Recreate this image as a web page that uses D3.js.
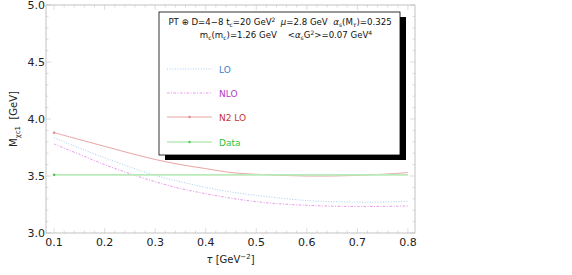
<!DOCTYPE html>
<html>
<head>
<meta charset="utf-8">
<script src="https://cdn.jsdelivr.net/npm/d3@7"></script>
<style>
  body { margin: 0; background: #fff; }
  text { font-family: "DejaVu Sans", sans-serif; white-space: pre; }
</style>
</head>
<body>
<svg id="chart" width="572" height="275"></svg>
<script>
// values
const tau = [0.1, 0.15, 0.2, 0.25, 0.3, 0.35, 0.4, 0.45, 0.5, 0.55, 0.6, 0.65, 0.7, 0.75, 0.8]
const lo = [3.836, 3.745, 3.66, 3.58, 3.505, 3.45, 3.40, 3.36, 3.33, 3.305, 3.285, 3.275, 3.27, 3.272, 3.278]
const nlo = [3.78, 3.69, 3.60, 3.52, 3.45, 3.39, 3.345, 3.305, 3.275, 3.255, 3.243, 3.235, 3.232, 3.233, 3.237]
const n2lo = [3.88, 3.82, 3.76, 3.70, 3.645, 3.60, 3.565, 3.53, 3.515, 3.505, 3.50, 3.50, 3.505, 3.515, 3.53]
const dataMass = [3.51, 3.51]
const dataTau = [0.1, 0.8]

const xTicks = [0.1, 0.2, 0.3, 0.4, 0.5, 0.6, 0.7, 0.8]
const yTicks = [3.0, 3.5, 4.0, 4.5, 5.0]

const series = [
    {label: 'LO', x: tau, y: lo, stroke: '#a9cdef', text: '#3d7fc6', dash: '1,1.6', width: 1, mark: false},
    {label: 'NLO', x: tau, y: nlo, stroke: '#e69ae6', text: '#b53bc0', dash: '2.5,1.5,1,1.5', width: 1, mark: false},
    {label: 'N2LO', x: tau, y: n2lo, stroke: '#e8a4a4', text: '#c63434', dash: null, width: 1, mark: true},
    {label: 'Data', x: dataTau, y: dataMass, stroke: '#b9eab9', text: '#35c235', dash: null, width: 1.6, mark: true}
]

const svg = d3.select('#chart')
const frame = {left: 46, right: 415, top: 5, bottom: 233}

const x = d3.scaleLinear().domain([0.084, 0.814]).range([frame.left, frame.right])
const y = d3.scaleLinear().domain([3.0, 5.0]).range([frame.bottom, frame.top])

const frameColor = '#a8a8a8'

// frame ticks (all four sides, pointing inward)
const g = svg.append('g')
const minorX = d3.range(0.1, 0.8001, 0.02).filter(d => !xTicks.some(t => Math.abs(t - d) < 1e-6))
const minorY = d3.range(3.0, 5.0001, 0.1).filter(d => !yTicks.some(t => Math.abs(t - d) < 1e-6))

const tickLines = []
xTicks.forEach(d => tickLines.push({x1: x(d), x2: x(d), y1: frame.bottom, y2: frame.bottom - 5}, {x1: x(d), x2: x(d), y1: frame.top, y2: frame.top + 5}))
minorX.forEach(d => tickLines.push({x1: x(d), x2: x(d), y1: frame.bottom, y2: frame.bottom - 2.5}, {x1: x(d), x2: x(d), y1: frame.top, y2: frame.top + 2.5}))
yTicks.forEach(d => tickLines.push({x1: frame.left, x2: frame.left + 5, y1: y(d), y2: y(d)}, {x1: frame.right, x2: frame.right - 5, y1: y(d), y2: y(d)}))
minorY.forEach(d => tickLines.push({x1: frame.left, x2: frame.left + 2.5, y1: y(d), y2: y(d)}, {x1: frame.right, x2: frame.right - 2.5, y1: y(d), y2: y(d)}))

g.selectAll('line.tick')
    .data(tickLines)
    .enter()
        .append('line')
        .attr('x1', d => d.x1).attr('x2', d => d.x2)
        .attr('y1', d => d.y1).attr('y2', d => d.y2)
        .attr('stroke', '#c8c8c8')
        .attr('stroke-width', 0.6)

g.append('rect')
    .attr('x', frame.left).attr('y', frame.top)
    .attr('width', frame.right - frame.left)
    .attr('height', frame.bottom - frame.top)
    .attr('fill', 'none')
    .attr('stroke', frameColor)
    .attr('stroke-width', 0.7)

// tick labels
g.selectAll('text.xlab')
    .data(xTicks)
    .enter()
        .append('text')
        .attr('x', d => x(d))
        .attr('y', frame.bottom + 13)
        .attr('text-anchor', 'middle')
        .style('font-size', '11px')
        .style('fill', '#222')
        .text(d => d.toFixed(1))

g.selectAll('text.ylab')
    .data(yTicks)
    .enter()
        .append('text')
        .attr('x', frame.left - 1)
        .attr('y', d => y(d) + 4)
        .attr('text-anchor', 'end')
        .style('font-size', '11px')
        .style('fill', '#222')
        .text(d => d.toFixed(1))

// axis titles
const xt = svg.append('text')
    .attr('x', (frame.left + frame.right) / 2)
    .attr('y', 263)
    .attr('text-anchor', 'middle')
    .style('font-size', '10px')
    .style('fill', '#222')
xt.append('tspan').style('font-style', 'italic').text('τ')
xt.append('tspan').text(' [GeV')
xt.append('tspan').attr('dy', -4).style('font-size', '7px').text('−2')
xt.append('tspan').attr('dy', 4).text(']')

const yt = svg.append('text')
    .attr('transform', 'translate(17,' + ((frame.top + frame.bottom) / 2) + ') rotate(-90)')
    .attr('text-anchor', 'middle')
    .style('font-size', '10px')
    .style('fill', '#222')
yt.append('tspan').text('M')
yt.append('tspan').attr('dy', 3).style('font-size', '7px').text('χc1')
yt.append('tspan').attr('dy', -3).text('  [GeV]')

// curves
const plot = svg.append('g')
series.forEach(s => {
    const pts = s.x.map((d, i) => [d, s.y[i]])
    plot.append('path')
        .datum(pts)
        .attr('fill', 'none')
        .attr('stroke', s.stroke)
        .attr('stroke-width', s.width)
        .attr('stroke-dasharray', s.dash)
        .attr('d', d3.line().x(d => x(d[0])).y(d => y(d[1])).curve(d3.curveCatmullRom))
    if (s.mark) {
        plot.append('circle')
            .attr('cx', x(pts[0][0])).attr('cy', y(pts[0][1]))
            .attr('r', 1.3)
            .attr('fill', s.label == 'Data' ? '#4cc84c' : '#e08a8a')
    }
})

// legend box with shadow
const legend = svg.append('g')
const box = {x: 159, y: 12, w: 241, h: 143}
legend.append('rect')
    .attr('x', box.x + 6).attr('y', box.y + 5)
    .attr('width', box.w).attr('height', box.h)
    .attr('fill', '#000')
legend.append('rect')
    .attr('x', box.x).attr('y', box.y)
    .attr('width', box.w).attr('height', box.h)
    .attr('fill', '#fff')
    .attr('stroke', '#000')
    .attr('stroke-width', 0.8)

const t1 = legend.append('text')
    .attr('x', 280).attr('y', 25)
    .attr('text-anchor', 'middle')
    .style('font-size', '8.6px')
    .style('fill', '#111')
t1.append('tspan').text('PT ⊕ D=4−8 t')
t1.append('tspan').attr('dy', 2).style('font-size', '6px').text('c')
t1.append('tspan').attr('dy', -2).text('=20 GeV')
t1.append('tspan').attr('dy', -3).style('font-size', '6px').text('2')
t1.append('tspan').attr('dy', 3).text('  ')
t1.append('tspan').style('font-style', 'italic').text('μ')
t1.append('tspan').text('=2.8 GeV  ')
t1.append('tspan').style('font-style', 'italic').text('α')
t1.append('tspan').attr('dy', 2).style('font-size', '6px').text('s')
t1.append('tspan').attr('dy', -2).text('(M')
t1.append('tspan').attr('dy', 2).style('font-size', '6px').style('font-style', 'italic').text('τ')
t1.append('tspan').attr('dy', -2).text(')=0.325')

const t2 = legend.append('text')
    .attr('x', 286).attr('y', 38)
    .attr('text-anchor', 'middle')
    .style('font-size', '8.6px')
    .style('fill', '#111')
t2.append('tspan').text('m')
t2.append('tspan').attr('dy', 2).style('font-size', '6px').text('c')
t2.append('tspan').attr('dy', -2).text('(m')
t2.append('tspan').attr('dy', 2).style('font-size', '6px').text('c')
t2.append('tspan').attr('dy', -2).text(')=1.26 GeV    <')
t2.append('tspan').style('font-style', 'italic').text('α')
t2.append('tspan').attr('dy', 2).style('font-size', '6px').text('s')
t2.append('tspan').attr('dy', -2).text('G')
t2.append('tspan').attr('dy', -3).style('font-size', '6px').text('2')
t2.append('tspan').attr('dy', 3).text('>=0.07 GeV')
t2.append('tspan').attr('dy', -3).style('font-size', '6px').text('4')

const rowY = [69, 93, 117, 142]
const rows = legend.selectAll('g.row')
    .data(series)
    .enter()
        .append('g')
        .attr('transform', (d, i) => 'translate(0,' + rowY[i] + ')')

rows.append('line')
    .attr('x1', 167).attr('x2', 212)
    .attr('stroke', d => d.stroke)
    .attr('stroke-width', d => d.width)
    .attr('stroke-dasharray', d => d.dash)

rows.filter(d => d.mark)
    .append('circle')
    .attr('cx', 189.5).attr('r', 1.2)
    .attr('fill', d => d.label == 'Data' ? '#4cc84c' : '#e08a8a')

rows.append('text')
    .attr('x', 219).attr('y', 3.5)
    .style('font-size', '9px')
    .style('fill', d => d.text)
    .text(d => d.label == 'N2LO' ? 'N2 LO' : d.label)
</script>
</body>
</html>
